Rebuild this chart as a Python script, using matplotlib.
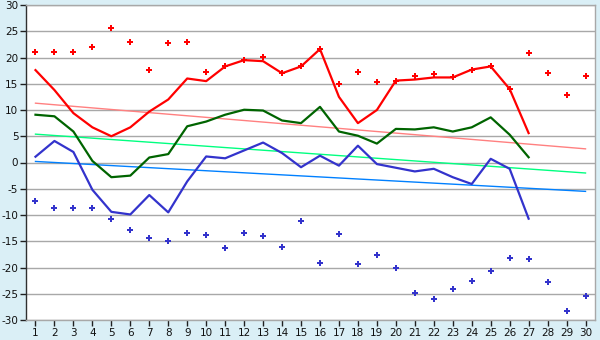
import matplotlib
matplotlib.use("Agg")
import matplotlib.pyplot as plt

days = list(range(1, 31))
line_days = list(range(1, 28))

max_temp = [17.6, 13.8, 9.4, 6.7, 5.0, 6.7, 9.7, 12.0, 16.0, 15.5, 18.3, 19.5, 19.3, 17.0,
            18.3, 21.6, 12.5, 7.5, 10.0, 15.6, 15.8, 16.2, 16.2, 17.7, 18.3, 14.0, 5.6]
mean_temp = [9.1, 8.8, 5.9, 0.3, -2.8, -2.5, 0.95, 1.6, 6.9, 7.8, 9.1, 10.05, 9.9, 8.0,
             7.5, 10.6, 5.9, 5.1, 3.6, 6.4, 6.3, 6.7, 5.9, 6.7, 8.6, 5.3, 1.0]
min_temp = [1.1, 4.1, 2.0, -5.2, -9.4, -9.9, -6.2, -9.5, -3.6, 1.15, 0.8, 2.3, 3.8, 1.8,
            -0.9, 1.3, -0.6, 3.2, -0.3, -1.0, -1.7, -1.2, -2.8, -4.1, 0.7, -1.2, -10.7]
record_high = [21, 21, 21, 22, 25.6, 23, 17.6, 22.8, 23, 17.25, 18.4, 19.6, 20.1, 17.0, 18.4,
               21.6, 15.0, 17.25, 15.3, 15.5, 16.5, 16.9, 16.2, 17.6, 18.45, 14.0, 20.9, 17.1,
               12.9, 16.5]
record_low = [-7.4, -8.7, -8.7, -8.7, -10.8, -12.9, -14.4, -14.9, -13.4, -13.9, -16.3, -13.4,
              -14.05, -16.0, -11.2, -19.2, -13.7, -19.4, -17.7, -20.0, -24.9, -26.0, -24.0,
              -22.6, -20.7, -18.2, -18.4, -22.8, -28.2, -25.5]
trend_days = [1, 30]
trend_max = [11.3, 2.6]
trend_mean = [5.4, -2.0]
trend_min = [0.2, -5.5]

y_ticks = list(range(-30, 31, 5))

bg = "#daeff6"
fig = plt.figure(figsize=(6, 3.4), dpi=100, facecolor=bg)
ax = fig.add_axes([26/600, 20/340, 569/600, 315/340])
ax.set_facecolor("white")

for t in y_ticks:
    ax.axhline(t, color="#a8a8a8", lw=1, zorder=1)

ax.plot(trend_days, trend_max, color="#ff8080", lw=1, zorder=2)
ax.plot(trend_days, trend_mean, color="#00ff80", lw=1, zorder=2)
ax.plot(trend_days, trend_min, color="#0080ff", lw=1, zorder=2)

ax.plot(line_days, max_temp, color="#ff0000", lw=1.6, zorder=3)
ax.plot(line_days, mean_temp, color="#006400", lw=1.6, zorder=3)
ax.plot(line_days, min_temp, color="#3333cc", lw=1.6, zorder=3)

ax.plot(days, record_high, ls="none", marker="P", ms=4, color="#ff0000",
        markeredgewidth=0, zorder=4)
ax.plot(days, record_low, ls="none", marker="P", ms=4, color="#3333cc",
        markeredgewidth=0, zorder=4)

ax.set_xlim(0.5, 30.5)
ax.set_ylim(-30, 30)
ax.set_xticks(days)
ax.set_yticks(y_ticks)
ax.set_yticklabels([str(t) for t in y_ticks])
ax.tick_params(axis="both", direction="out", length=4, width=1, color="#202020",
               labelsize=7.5, labelcolor="#101010", pad=1.5)

for side in ["top", "right", "bottom"]:
    ax.spines[side].set_color("#a8a8a8")
ax.spines["left"].set_color("#303030")
for s in ax.spines.values():
    s.set_linewidth(1)

fig.savefig("out.png", dpi=100, facecolor=bg)
